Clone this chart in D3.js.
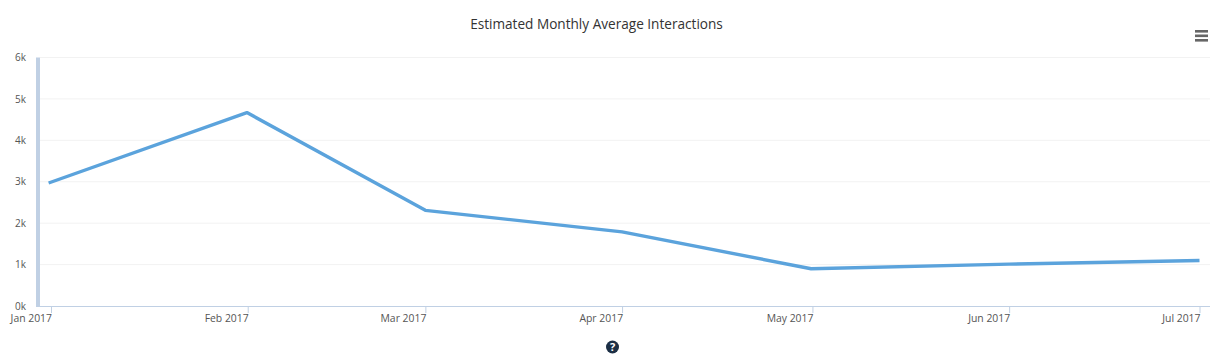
<!DOCTYPE html>
<html>
<head>
<meta charset="utf-8">
<script src="https://cdn.jsdelivr.net/npm/d3@7"></script>
<style>
html, body { margin: 0; padding: 0; background: #fff; overflow: hidden; }
text { font-family: "Open Sans", sans-serif; }
</style>
</head>
<body>
<div id="chart"></div>
<script>
// Chart values
const months = ['2017-01-01T00', '2017-02-01T00', '2017-03-01T00', '2017-04-01T00', '2017-05-01T00', '2017-06-01T00', '2017-07-01T00'];
// points sit a little before their month tick in the original
const pointDates = ['2016-12-31T15', '2017-01-31T21', '2017-03-01T00', '2017-04-01T00', '2017-04-30T19', '2017-06-01T00', '2017-07-01T00'];
const interactions = [2970, 4670, 2310, 1790, 900, 1010, 1100];
const yTicks = [0, 1000, 2000, 3000, 4000, 5000, 6000];

const parseDate = d3.timeParse('%Y-%m-%dT%H');
const margin = { top: 57.5, right: 10, bottom: 52, left: 40 };
const width = 1220 - margin.left - margin.right;
const height = 358 - margin.top - margin.bottom;

const svg = d3.select('#chart').append('svg')
    .attr('width', 1220)
    .attr('height', 358)
    .style('display', 'block');

const g = svg.append('g')
    .attr('transform', `translate(${margin.left},${margin.top})`);

// Scales
const xScale = d3.scaleTime()
    .domain(d3.extent(months, parseDate))
    .range([11, 1159.5]);

const yScale = d3.scaleLinear()
    .domain([0, 6000])
    .range([height, 0]);

// Grid lines
g.selectAll('.grid-line')
    .data(yTicks.slice(1))
    .enter()
    .append('line')
    .attr('class', 'grid-line')
    .attr('x1', 0)
    .attr('x2', width)
    .attr('y1', d => yScale(d))
    .attr('y2', d => yScale(d))
    .attr('stroke', '#f2f2f2')
    .attr('stroke-width', 1);

// Y axis, labels only plus the thick bar
const yAxis = d3.axisLeft(yScale)
    .tickValues(yTicks)
    .tickSize(0)
    .tickPadding(14)
    .tickFormat(d => (d / 1000) + 'k');

const yAxisGroup = g.append('g').attr('class', 'y-axis').call(yAxis);
yAxisGroup.select('.domain').remove();
yAxisGroup.selectAll('text')
    .style('font-size', '10px')
    .attr('fill', '#555');

g.append('rect')
    .attr('x', -4)
    .attr('y', 0)
    .attr('width', 4)
    .attr('height', height)
    .attr('fill', '#c0d0e4');

// X axis
const xAxis = d3.axisBottom(xScale)
    .tickValues(months.map(parseDate))
    .tickSize(7)
    .tickPadding(2)
    .tickFormat(d3.timeFormat('%b %Y'));

const xAxisGroup = g.append('g')
    .attr('class', 'x-axis')
    .attr('transform', `translate(0,${height})`)
    .call(xAxis);

xAxisGroup.select('.domain')
    .attr('d', `M-4,0.5H${width}`)
    .attr('stroke', '#c0d0e4');
xAxisGroup.selectAll('line').attr('stroke', '#c0d0e4');
xAxisGroup.selectAll('text')
    .attr('text-anchor', 'end')
    .attr('dx', 0.5)
    .style('font-size', '10.4px')
    .attr('fill', '#555');

// Line
const line = d3.line()
    .x((d, i) => xScale(parseDate(pointDates[i])))
    .y(d => yScale(d));

g.append('path')
    .datum(interactions)
    .attr('d', line)
    .attr('fill', 'none')
    .attr('stroke', '#5ba3dc')
    .attr('stroke-width', 3.4)
    .attr('stroke-linejoin', 'round');

// Title
svg.append('text')
    .attr('x', 596.5)
    .attr('y', 29)
    .attr('text-anchor', 'middle')
    .style('font-size', '13.6px')
    .attr('fill', '#333')
    .text('Estimated Monthly Average Interactions');

// Menu icon
svg.selectAll('.menu-bar')
    .data([0, 1, 2])
    .enter()
    .append('rect')
    .attr('class', 'menu-bar')
    .attr('x', 1195)
    .attr('y', d => 30 + d * 4.5)
    .attr('width', 13)
    .attr('height', 2.6)
    .attr('fill', '#666');

// Help icon
const help = svg.append('g').attr('transform', 'translate(612.5,347)');
help.append('circle').attr('r', 6.5).attr('fill', '#1c2f45');
help.append('text')
    .attr('text-anchor', 'middle')
    .attr('y', 4)
    .style('font-size', '11px')
    .style('font-weight', '700')
    .attr('fill', '#fff')
    .text('?');
</script>
</body>
</html>
